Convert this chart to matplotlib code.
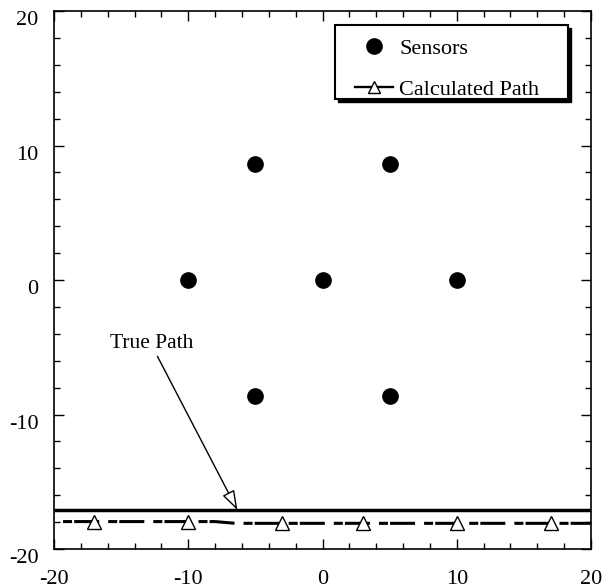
import numpy as np
import matplotlib.pyplot as plt
from matplotlib.lines import Line2D
from matplotlib.patches import Rectangle
from matplotlib.ticker import MultipleLocator

plt.rcParams['font.family'] = ['Liberation Serif', 'DejaVu Serif']
plt.rcParams['lines.scale_dashes'] = False
plt.rcParams['axes.unicode_minus'] = False

# Sensor positions (hexagon + centre)
sensor_x = [-5, 5, -10, 0, 10, -5, 5]
sensor_y = [8.66, 8.66, 0, 0, 0, -8.66, -8.66]

# True path (straight line)
true_x = [-20, 20]
true_y = [-17.1, -17.1]

# Calculated path
calc_x = [-20, -17, -10, -8, -6.5, -3, 3, 10, 17, 20]
calc_y = [-17.96, -17.96, -17.96, -17.96, -18.09, -18.09, -18.09, -18.09, -18.09, -18.09]
calc_marks = [1, 2, 5, 6, 7, 8]

fig = plt.figure(figsize=(6.05, 5.88), dpi=100)
ax = fig.add_axes([0.0893, 0.0663, 0.8876, 0.915])

ax.plot(sensor_x, sensor_y, 'o', color='black', markersize=11, linestyle='none')
ax.plot(true_x, true_y, color='black', linewidth=2.5, solid_capstyle='butt')
ax.plot(calc_x, calc_y, color='black', linewidth=2.2,
        linestyle=(26, (6.5, 1.5, 18, 6.5)), dash_capstyle='butt',
        marker='^', markersize=10, markerfacecolor='white', markeredgecolor='black',
        markeredgewidth=1, markevery=calc_marks)

# annotation for the true path
ax.text(-12.7, -4.7, 'True Path', fontsize=15.5, ha='center', va='center')
ax.annotate('', xy=(-6.34, -17.1), xytext=(-12.3, -5.67),
            arrowprops=dict(arrowstyle='-|>,head_length=1.2,head_width=0.4',
                            facecolor='white', edgecolor='black', lw=1,
                            shrinkA=0, shrinkB=0))

ax.set_xlim(-20, 20)
ax.set_ylim(-20, 20)
ax.xaxis.set_major_locator(MultipleLocator(10))
ax.yaxis.set_major_locator(MultipleLocator(10))
ax.xaxis.set_minor_locator(MultipleLocator(2))
ax.yaxis.set_minor_locator(MultipleLocator(2))
ax.tick_params(which='both', direction='in', top=True, right=True, width=1,
               labelsize=16)
ax.tick_params(axis='x', pad=15)
ax.tick_params(axis='y', pad=11)
ax.tick_params(which='major', length=7)
ax.tick_params(which='minor', length=4)
plt.setp(ax.get_yticklabels(), va='top')
for s in ax.spines.values():
    s.set_linewidth(1.2)

# legend box with a solid black drop shadow
ax.add_patch(Rectangle((0.5289, 0.8308), 0.4337, 0.1376, transform=ax.transAxes,
                       facecolor='black', edgecolor='black', zorder=4, clip_on=False))
ax.add_patch(Rectangle((0.5233, 0.8364), 0.4337, 0.1376, transform=ax.transAxes,
                       facecolor='white', edgecolor='black', linewidth=1.5,
                       zorder=4.5, clip_on=False))

handles = [
    Line2D([], [], marker='o', color='black', markersize=11, linestyle='none'),
    Line2D([], [], marker='^', color='black', linewidth=1.7, markersize=9,
           markerfacecolor='white', markeredgewidth=1),
]
leg = ax.legend(handles, ['Sensors', 'Calculated Path'], loc='upper left',
                bbox_to_anchor=(0.5605, 0.9487), borderaxespad=0, frameon=False,
                fontsize=16, handlelength=1.7, handletextpad=0.3,
                labelspacing=0.9, borderpad=0)
leg.set_zorder(5)

fig.savefig('out.png', dpi=100)
